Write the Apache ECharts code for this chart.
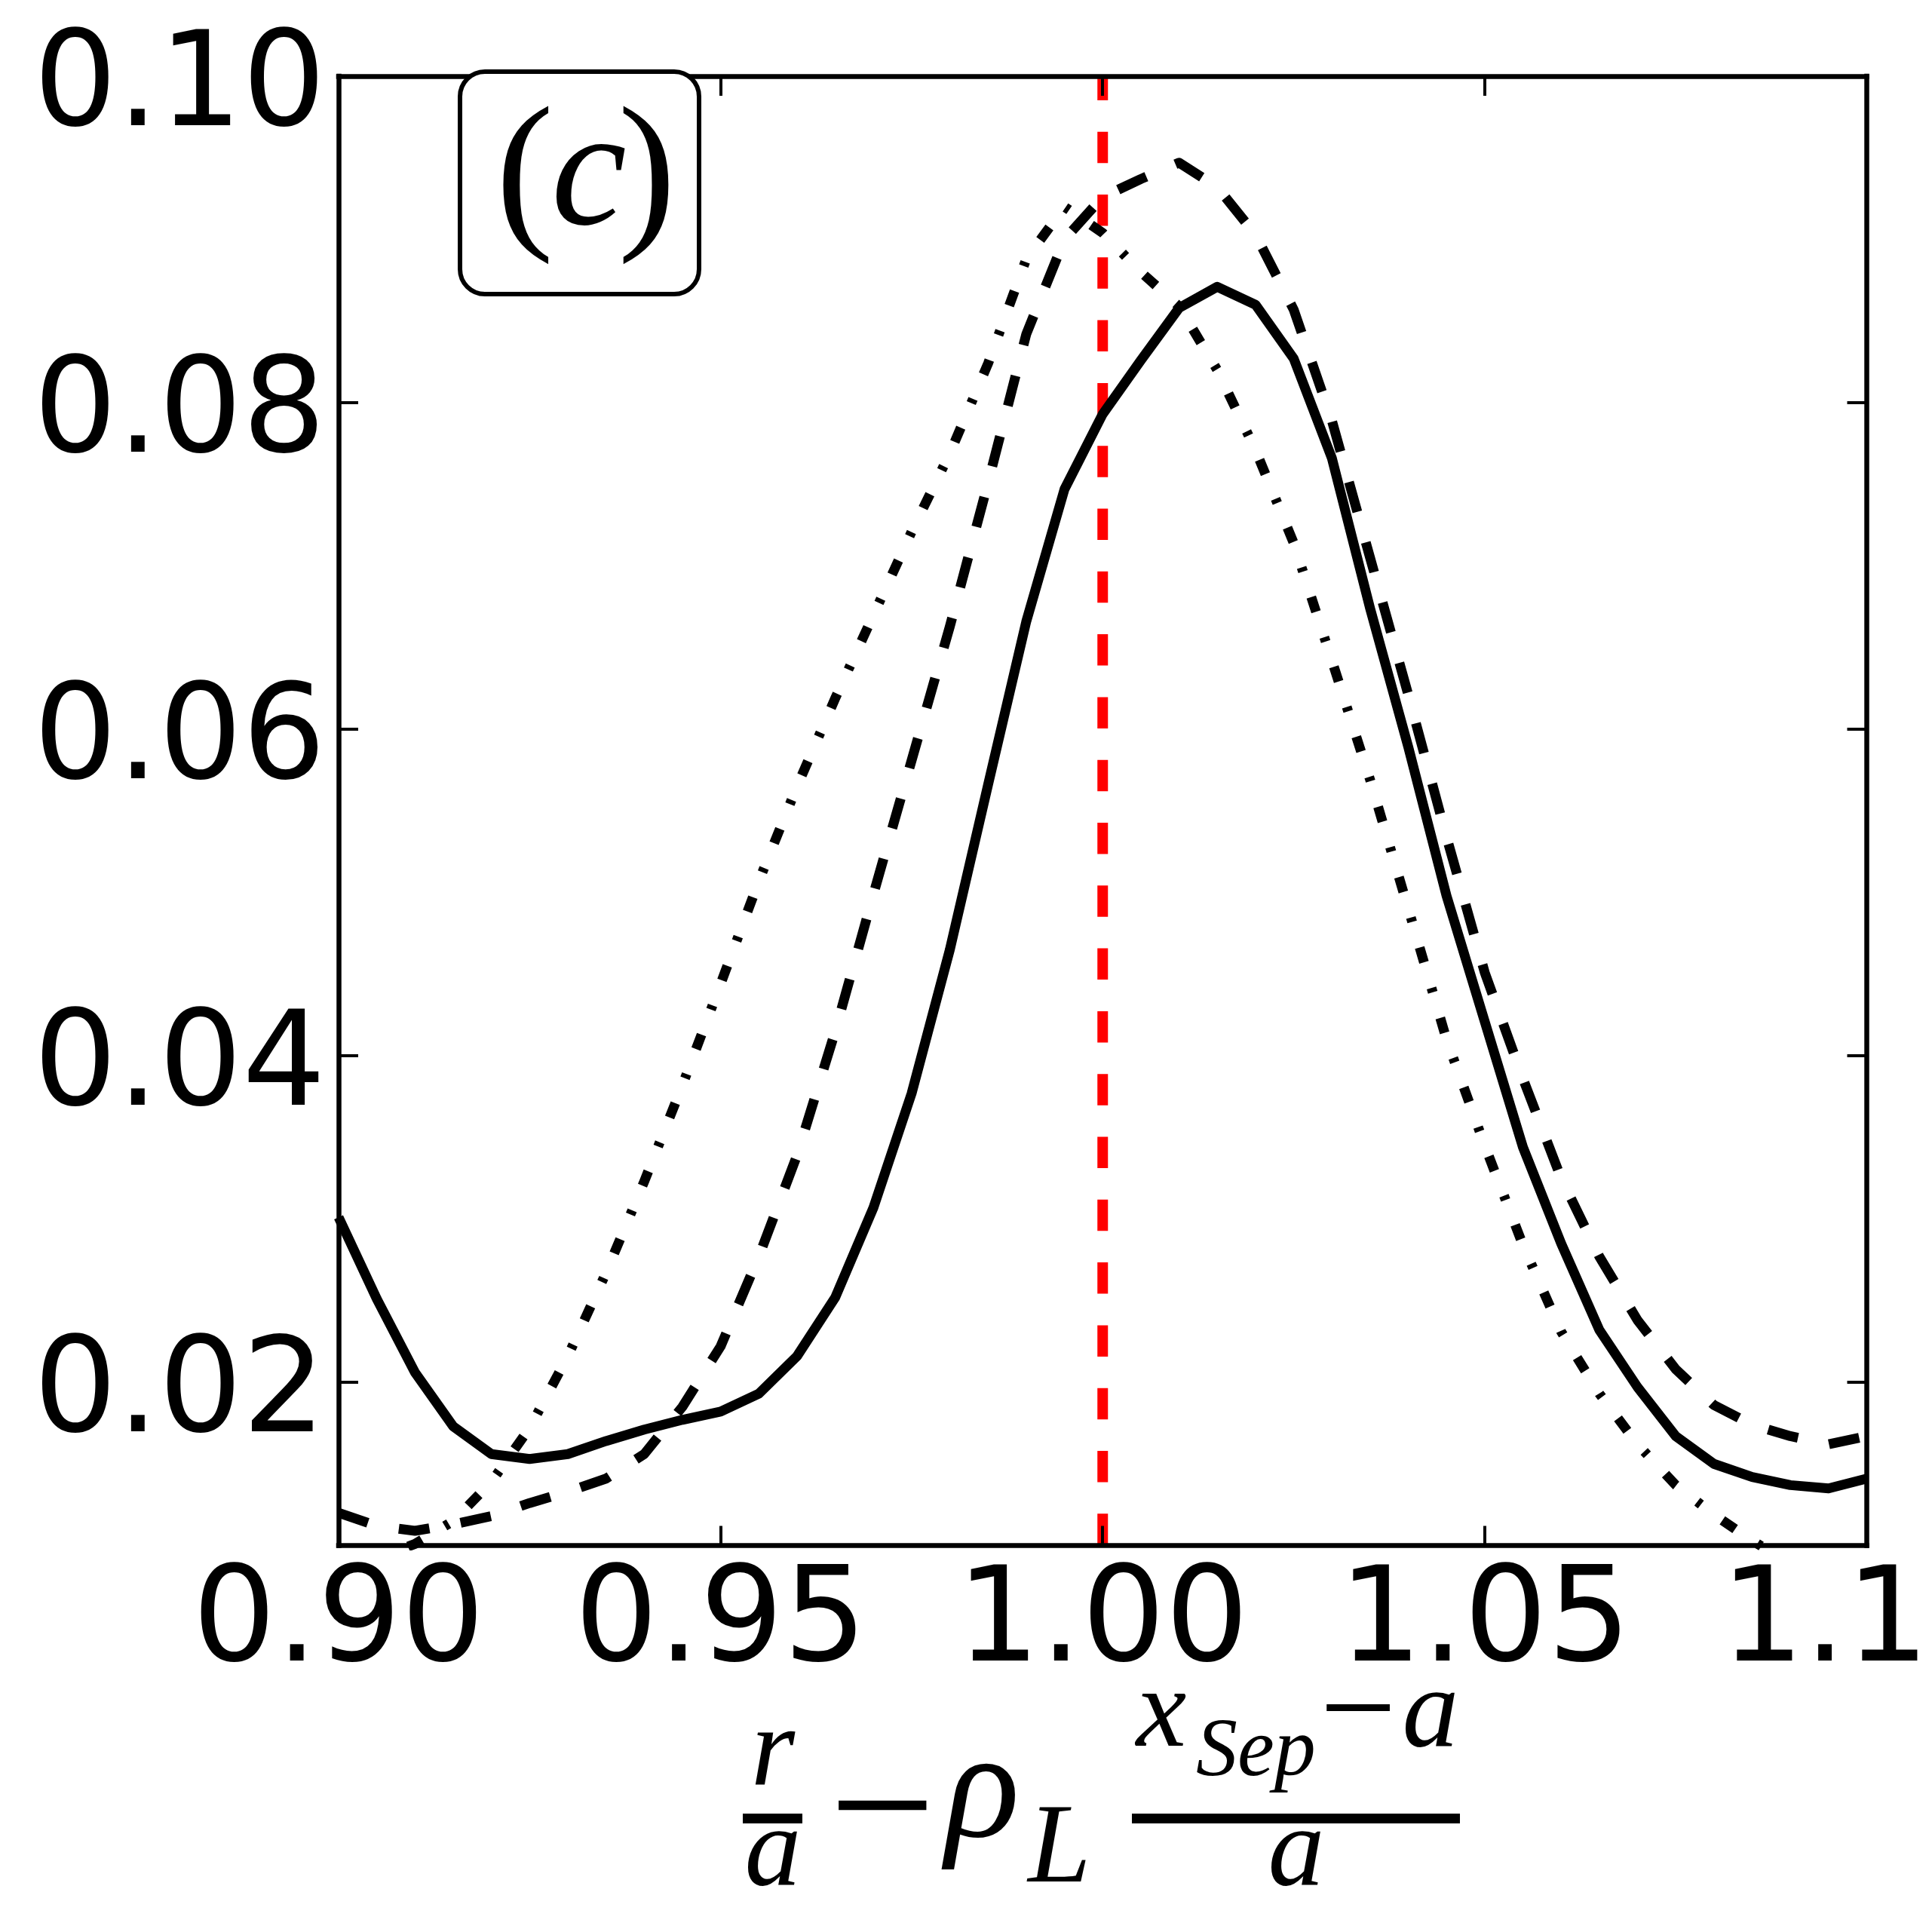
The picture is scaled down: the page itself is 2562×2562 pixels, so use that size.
<!DOCTYPE html>
<html style="height: 100%">
<head>
    <meta charset="utf-8">
    <script src="https://cdn.jsdelivr.net/npm/echarts@6/dist/echarts.min.js"></script>
    <title>Profile (c)</title>
</head>
<body style="height: 100%; margin: 0">
<div id="container" style="width: 2562px; height: 2562px"></div>
<script type="text/javascript">
// radial positions (r/a - rho_L (x_Sep - a)/a)
let xValues = [0.900, 0.905, 0.910, 0.915, 0.920, 0.925, 0.930, 0.935, 0.940, 0.945,
               0.950, 0.955, 0.960, 0.965, 0.970, 0.975, 0.980, 0.985, 0.990, 0.995,
               1.000, 1.005, 1.010, 1.015, 1.020, 1.025, 1.030, 1.035, 1.040, 1.045,
               1.050, 1.055, 1.060, 1.065, 1.070, 1.075, 1.080, 1.085, 1.090, 1.095, 1.100]

let solidValues = [0.0301, 0.0251, 0.0206, 0.0173, 0.0156, 0.0153, 0.0156, 0.0164, 0.0171, 0.0177,
                   0.0182, 0.0193, 0.0216, 0.0252, 0.0307, 0.0377, 0.0465, 0.0566, 0.0666, 0.0747,
                   0.0793, 0.0826, 0.0858, 0.0871, 0.0860, 0.0827, 0.0766, 0.0674, 0.0589, 0.0498,
                   0.0421, 0.0344, 0.0285, 0.0232, 0.0197, 0.0167, 0.0150, 0.0142, 0.0137, 0.0135, 0.0141]

let dashedValues = [0.0120, 0.0112, 0.0109, 0.0113, 0.0118, 0.0126, 0.0133, 0.0141, 0.0156, 0.0185,
                    0.0222, 0.0277, 0.0339, 0.0415, 0.0499, 0.0581, 0.0663, 0.0751, 0.0842, 0.0900,
                    0.0926, 0.0937, 0.0947, 0.0932, 0.0903, 0.0857, 0.0789, 0.0705, 0.0621, 0.0534,
                    0.0451, 0.0386, 0.0325, 0.0277, 0.0238, 0.0208, 0.0186, 0.0174, 0.0167, 0.0162, 0.0167]

let dashDotValues = [0.0085, 0.0092, 0.0101, 0.0115, 0.0139, 0.0172, 0.0216, 0.0267, 0.0323, 0.0382,
                     0.0444, 0.0507, 0.0565, 0.0619, 0.0670, 0.0721, 0.0769, 0.0824, 0.0888, 0.0920,
                     0.0904, 0.0880, 0.0859, 0.0820, 0.0771, 0.0714, 0.0642, 0.0569, 0.0490, 0.0410,
                     0.0345, 0.0284, 0.0231, 0.0193, 0.0162, 0.0137, 0.0119, 0.0103, 0.0089, 0.0078, 0.0068]

let xTicks = [0.90, 0.95, 1.00, 1.05, 1.10]
let yTicks = [0.02, 0.04, 0.06, 0.08, 0.10]
let xMin = 0.90, xMax = 1.10
let yMin = 0.01, yMax = 0.10
let sepX = 1.0
let panelLabel = 'c'

function pairs(ys) {
    return xValues.map((x, i) => [x, ys[i]])
}

let spine = {show: true, onZero: false, lineStyle: {color: '#000', width: 6.5, cap: 'square'}}
let ticks = {show: true, inside: true, length: 26, lineStyle: {color: '#000', width: 4}}
let serif = '"Liberation Serif", serif'

function glyph(txt, x, y, size, italic, align) {
    return {
        type: 'text', x: x, y: y, z: 101,
        style: {
            text: txt,
            font: (italic ? 'italic ' : '') + size + 'px ' + serif,
            fill: '#000',
            textAlign: align || 'center',
            textVerticalAlign: 'middle',
            verticalAlign: 'middle'
        }
    }
}

let chart = echarts.init(document.getElementById('container'))
chart.setOption({
    animation: false,
    backgroundColor: '#fff',
    grid: {left: 449, right: 86.5, top: 101, bottom: 512.5, containLabel: false, outerBoundsMode: 'none'},
    xAxis: [
        {
            type: 'value', min: xMin, max: xMax, interval: 0.05, position: 'bottom', z: 5,
            axisLine: spine,
            axisTick: Object.assign({}, ticks, {customValues: xTicks}),
            axisLabel: {
                customValues: xTicks, margin: 20, fontSize: 174, fontFamily: 'DejaVu Sans', color: '#000',
                showMinLabel: true, showMaxLabel: true,
                formatter: v => v.toFixed(2)
            },
            splitLine: {show: false}
        },
        {
            type: 'value', min: xMin, max: xMax, interval: 0.05, position: 'top', z: 5,
            axisLine: spine,
            axisTick: Object.assign({}, ticks, {customValues: xTicks}),
            axisLabel: {show: false},
            splitLine: {show: false}
        }
    ],
    yAxis: [
        {
            type: 'value', min: yMin, max: yMax, interval: 0.01, position: 'left', z: 5,
            axisLine: spine,
            axisTick: Object.assign({}, ticks, {customValues: yTicks}),
            axisLabel: {
                customValues: yTicks, margin: 17, fontSize: 174, fontFamily: 'DejaVu Sans', color: '#000',
                verticalAlign: 'top', lineHeight: 40,
                formatter: v => v.toFixed(2)
            },
            splitLine: {show: false}
        },
        {
            type: 'value', min: yMin, max: yMax, interval: 0.01, position: 'right', z: 5,
            axisLine: spine,
            axisTick: Object.assign({}, ticks, {customValues: yTicks}),
            axisLabel: {show: false},
            splitLine: {show: false}
        }
    ],
    series: [
        {
            type: 'line', name: 'separatrix', data: [[sepX, yMax], [sepX, yMin]],
            symbol: 'none', silent: true, z: 1,
            lineStyle: {color: '#ff0000', width: 14, type: [41.5, 41.8], dashOffset: 9.6}
        },
        {
            type: 'line', name: 'solid', data: pairs(solidValues),
            symbol: 'none', silent: true, z: 2,
            lineStyle: {color: '#000', width: 13, join: 'round'}
        },
        {
            type: 'line', name: 'dashed', data: pairs(dashedValues),
            symbol: 'none', silent: true, z: 2,
            lineStyle: {color: '#000', width: 13, type: [41, 42], join: 'round'}
        },
        {
            type: 'line', name: 'dashdot', data: pairs(dashDotValues),
            symbol: 'none', silent: true, z: 2,
            lineStyle: {color: '#000', width: 13, type: [20.5, 35.4, 6, 35.4], join: 'round'}
        }
    ],
    graphic: [
        // panel label box
        {
            type: 'rect', z: 100,
            shape: {x: 610, y: 95, width: 317, height: 295, r: 33},
            style: {fill: '#fff', stroke: '#000', lineWidth: 6}
        },
        glyph('(', 696, 240, 232, false),
        glyph(panelLabel, 781, 238, 225, true),
        glyph(')', 858, 240, 232, false),

        // x axis title: r/a - rho_L (x_Sep - a)/a
        glyph('r', 1025, 2328, 150, true),
        {type: 'rect', z: 101, shape: {x: 985, y: 2405, width: 79, height: 13}, style: {fill: '#000'}},
        glyph('a', 1025, 2460, 150, true),
        glyph('\u2212', 1170, 2411, 250, false),
        glyph('\u03c1', 1303, 2381, 205, true),
        glyph('L', 1405, 2456, 150, true),
        {type: 'rect', z: 101, shape: {x: 1501, y: 2405, width: 435, height: 13}, style: {fill: '#000'}},
        glyph('x', 1540, 2276, 150, true),
        glyph('Sep', 1586, 2325, 110, true, 'left'),
        glyph('\u2212', 1801, 2277, 180, false),
        glyph('a', 1897, 2276, 150, true),
        glyph('a', 1719, 2460, 150, true)
    ]
}, true)
</script>
</body>
</html>
